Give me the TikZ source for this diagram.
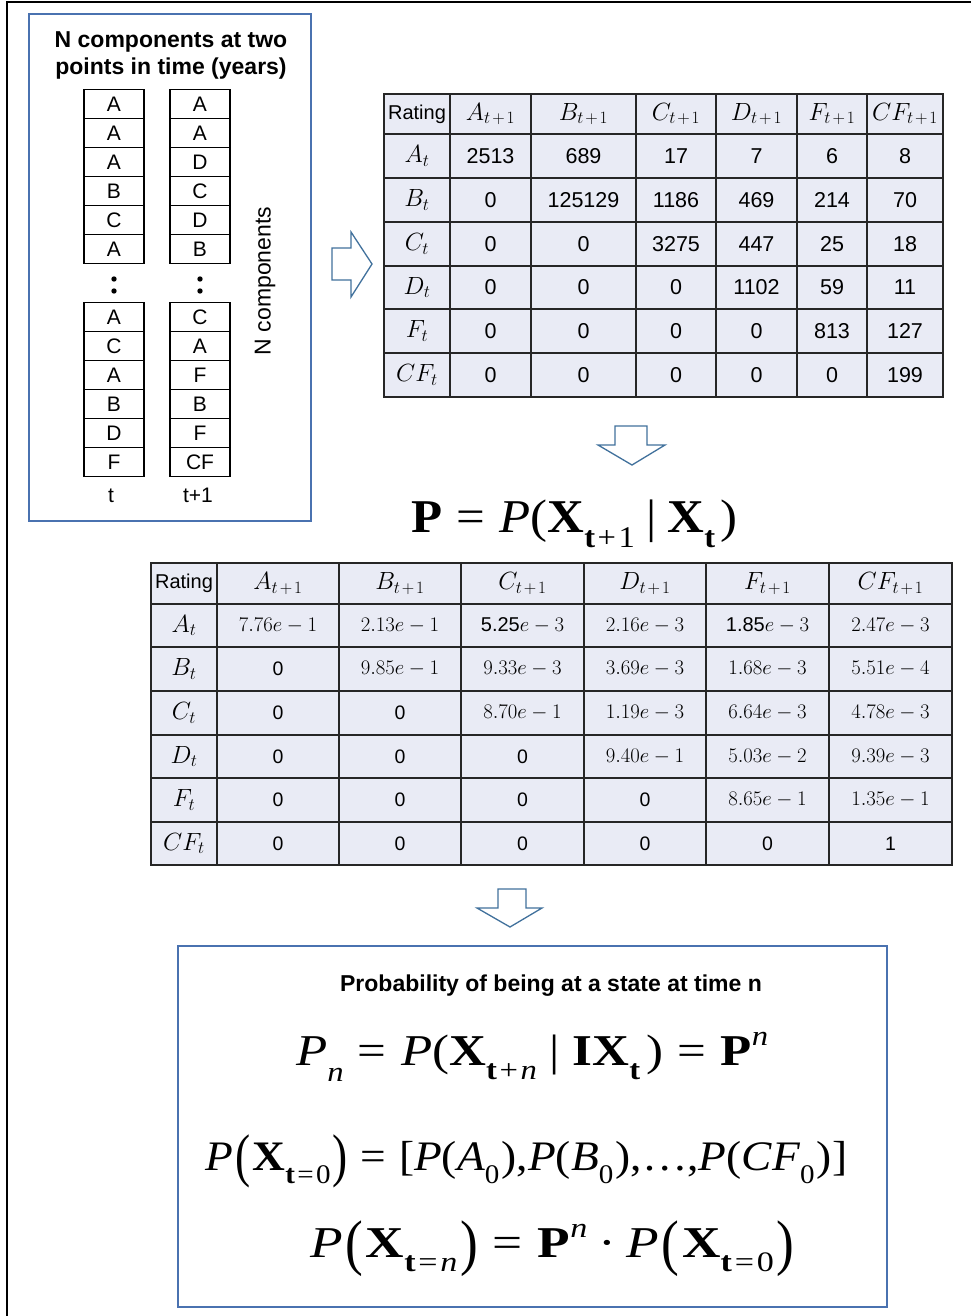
\documentclass[tikz,border=0pt]{standalone}
\usepackage{fontspec}
\usepackage{graphicx}
\newfontfamily\arial{Liberation Sans}
\newfontfamily\tms{Liberation Serif}
\definecolor{boxblue}{HTML}{4A72B0}
\definecolor{arrowblue}{HTML}{41719C}
\definecolor{cellc}{HTML}{E9EBF5}
\newcommand\fs[1]{\fontsize{#1}{#1}\selectfont}
\newcommand\lo[2]{\raisebox{-#1em}{\scalebox{0.64}{#2}}}
\newcommand\hi[2]{\raisebox{#1em}{\scalebox{0.64}{#2}}}
\newcommand\bigp[1]{\raisebox{-0.14em}{\scalebox{1}[1.4]{#1}}}
\newcommand\eqs{\hspace{0.28em}=\hspace{0.28em}}
\newcommand\tsp{\hspace{0.08em}}
\newcommand\tcell[6]{%
  \draw[tbl] (#1,#2) rectangle (#3,#4);
  \node[#6] (c#1-#2) at ({(#1+#3)/2},{(#2+#4)/2}) {#5};}
\newcommand\toprow[9]{%
  \tcell{384}{#1}{450}{#2}{#3}{ctext}
  \tcell{450}{#1}{531}{#2}{#4}{ctext}
  \tcell{531}{#1}{636}{#2}{#5}{ctext}
  \tcell{636}{#1}{716}{#2}{#6}{ctext}
  \tcell{716}{#1}{797}{#2}{#7}{ctext}
  \tcell{797}{#1}{867}{#2}{#8}{ctext}
  \tcell{867}{#1}{943}{#2}{#9}{ctext}}
\newcommand\botrow[9]{%
  \tcell{151}{#1}{217}{#2}{#3}{ctextb}
  \tcell{217}{#1}{339}{#2}{#4}{ctextb}
  \tcell{339}{#1}{461}{#2}{#5}{ctextb}
  \tcell{461}{#1}{584}{#2}{#6}{ctextb}
  \tcell{584}{#1}{706}{#2}{#7}{ctextb}
  \tcell{706}{#1}{829}{#2}{#8}{ctextb}
  \tcell{829}{#1}{952}{#2}{#9}{ctextb}}
\newcommand\hd[1]{{\fs{26}$#1_{\mbox{\fs{19}$t\mskip2mu{+}\mskip2mu1$}}$}}
\newcommand\rl[1]{{\fs{27}$#1_{\mbox{\fs{19}$t$}}$}}
\newcommand\ev[2]{{\fs{22}$#1e-#2$}}
\newcommand\es[2]{{\fs{20}#1}{\fs{22}$e-#2$}}
\begin{document}
\begin{tikzpicture}[x=1pt,y=-1pt,
  bluebox/.style={draw=boxblue, line width=1.6pt},
  tbl/.style={draw=black!85, line width=1.5pt, fill=cellc},
  ctext/.style={inner sep=0pt, font=\arial\fs{21.5}},
  ctextb/.style={inner sep=0pt, font=\arial\fs{19.5}},
  lcell/.style={draw=black, line width=1.3pt, minimum width=60pt, minimum height=29pt, inner sep=0pt, font=\arial\fs{21}},
  lbl/.style={inner sep=0pt, font=\arial\fs{21}},
  blockarrow/.style={draw=arrowblue, line width=1.3pt, fill=white, line join=miter},
  formula/.style={inner sep=0pt, anchor=base west, font=\tms}]
\useasboundingbox (0,0) rectangle (971,1316);
\fill[white] (0,0) rectangle (971,1316);
\draw[line width=2pt] (7,1316) -- (7,2.5) -- (971,2.5);

% ---------- left box ----------
\draw[bluebox] (29,14) rectangle (311,521);
\node[inner sep=0pt, align=center, font=\arial\bfseries\fontsize{23}{27}\selectfont] (ttl) at (171,55) {N components at two\\points in time (years)};
\foreach \l [count=\i from 0] in {A,A,A,B,C,A}
  \node[lcell] (ta\i) at (114,{104+29*\i}) {\l};
\foreach \l [count=\i from 0] in {A,A,D,C,D,B}
  \node[lcell] (tb\i) at (200,{104+29*\i}) {\l};
\foreach \l [count=\i from 0] in {A,C,A,B,D,F}
  \node[lcell] (tc\i) at (114,{317+29*\i}) {\l};
\foreach \l [count=\i from 0] in {C,A,F,B,F,CF}
  \node[lcell] (td\i) at (200,{317+29*\i}) {\l};
\fill (114,279) circle (2.7) (114,291) circle (2.7) (200,279) circle (2.7) (200,291) circle (2.7);
\node[lbl, anchor=base] (lt) at (111,502) {t};
\node[lbl, anchor=base] (lt1) at (198,502) {t+1};
\node[inner sep=0pt, rotate=90, font=\arial\fs{23}] (ncomp) at (265,281) {N components};

% ---------- arrows ----------
\draw[blockarrow] (332,248) -- (351,248) -- (351,232) -- (372,264) -- (351,297) -- (351,280) -- (332,280) -- cycle;
\draw[blockarrow] (615,426) -- (647,426) -- (647,445) -- (665,445) -- (632,465) -- (598,445) -- (615,445) -- cycle;
\draw[blockarrow] (498,889) -- (526,889) -- (526,908) -- (542,908) -- (510,927) -- (477,908) -- (498,908) -- cycle;

% ---------- top table ----------
\toprow{94}{134}{{\fs{20}Rating}}{\hd{A}}{\hd{B}}{\hd{C}}{\hd{D}}{\hd{F}}{\hd{CF}}
\toprow{134}{178}{\rl{A}}{2513}{689}{17}{7}{6}{8}
\toprow{178}{222}{\rl{B}}{0}{125129}{1186}{469}{214}{70}
\toprow{222}{266}{\rl{C}}{0}{0}{3275}{447}{25}{18}
\toprow{266}{309}{\rl{D}}{0}{0}{0}{1102}{59}{11}
\toprow{309}{353}{\rl{F}}{0}{0}{0}{0}{813}{127}
\toprow{353}{397}{\rl{CF}}{0}{0}{0}{0}{0}{199}

% ---------- middle formula ----------
\node[formula] (pf) at (411,532) {\resizebox{326pt}{\height}{\fs{47}\textbf{P}\eqs\textit{P}(\textbf{X}\lo{0.33}{{\bfseries t}\tsp+\tsp1}\hspace{0.22em}|\hspace{0.22em}\textbf{X}\lo{0.33}{\bfseries t}\hspace{0.1em})}};

% ---------- bottom table ----------
\botrow{563}{604}{{\fs{20}Rating}}{\hd{A}}{\hd{B}}{\hd{C}}{\hd{D}}{\hd{F}}{\hd{CF}}
\botrow{604}{647}{\rl{A}}{\ev{7.76}{1}}{\ev{2.13}{1}}{\es{5.25}{3}}{\ev{2.16}{3}}{\es{1.85}{3}}{\ev{2.47}{3}}
\botrow{647}{691}{\rl{B}}{0}{\ev{9.85}{1}}{\ev{9.33}{3}}{\ev{3.69}{3}}{\ev{1.68}{3}}{\ev{5.51}{4}}
\botrow{691}{735}{\rl{C}}{0}{0}{\ev{8.70}{1}}{\ev{1.19}{3}}{\ev{6.64}{3}}{\ev{4.78}{3}}
\botrow{735}{778}{\rl{D}}{0}{0}{0}{\ev{9.40}{1}}{\ev{5.03}{2}}{\ev{9.39}{3}}
\botrow{778}{822}{\rl{F}}{0}{0}{0}{0}{\ev{8.65}{1}}{\ev{1.35}{1}}
\botrow{822}{865}{\rl{CF}}{0}{0}{0}{0}{0}{1}

% ---------- bottom box ----------
\draw[bluebox] (178,946) rectangle (887,1307);
\node[inner sep=0pt, anchor=base, font=\arial\bfseries\fs{23}] (prob) at (551,991) {Probability of being at a state at time n};
\node[formula] (f1) at (296,1065) {\resizebox{472pt}{\height}{\fs{44}\textit{P}\lo{0.38}{\itshape n}\eqs\textit{P}(\textbf{X}\lo{0.33}{{\bfseries t}\tsp+\tsp\itshape n}\hspace{0.25em}|\hspace{0.25em}\textbf{IX}\lo{0.33}{\bfseries t}\hspace{0.12em})\eqs\textbf{P}\hi{0.45}{\itshape n}}};
\node[formula] (f2) at (205,1170) {\resizebox{642pt}{\height}{\fs{42}\textit{P}\hspace{0.05em}\bigp{(}\hspace{0.05em}\textbf{X}\lo{0.33}{{\bfseries t}\tsp=\tsp0}\hspace{0.05em}\bigp{)}\eqs[\textit{P}(\textit{A}\lo{0.33}{0}\hspace{0.05em}),\textit{P}(\textit{B}\lo{0.33}{0}\hspace{0.05em}),\ldots,\textit{P}(\textit{CF}\lo{0.33}{0}\hspace{0.05em})]}};
\node[formula] (f3) at (310,1257) {\resizebox{484pt}{\height}{\fs{44}\textit{P}\hspace{0.05em}\bigp{(}\hspace{0.05em}\textbf{X}\lo{0.33}{{\bfseries t}\tsp=\tsp\itshape n}\hspace{0.05em}\bigp{)}\eqs\textbf{P}\hi{0.45}{\itshape n}\hspace{0.2em}·\hspace{0.2em}\textit{P}\hspace{0.05em}\bigp{(}\hspace{0.05em}\textbf{X}\lo{0.33}{{\bfseries t}\tsp=\tsp0}\hspace{0.05em}\bigp{)}}};
\end{tikzpicture}
\end{document}
